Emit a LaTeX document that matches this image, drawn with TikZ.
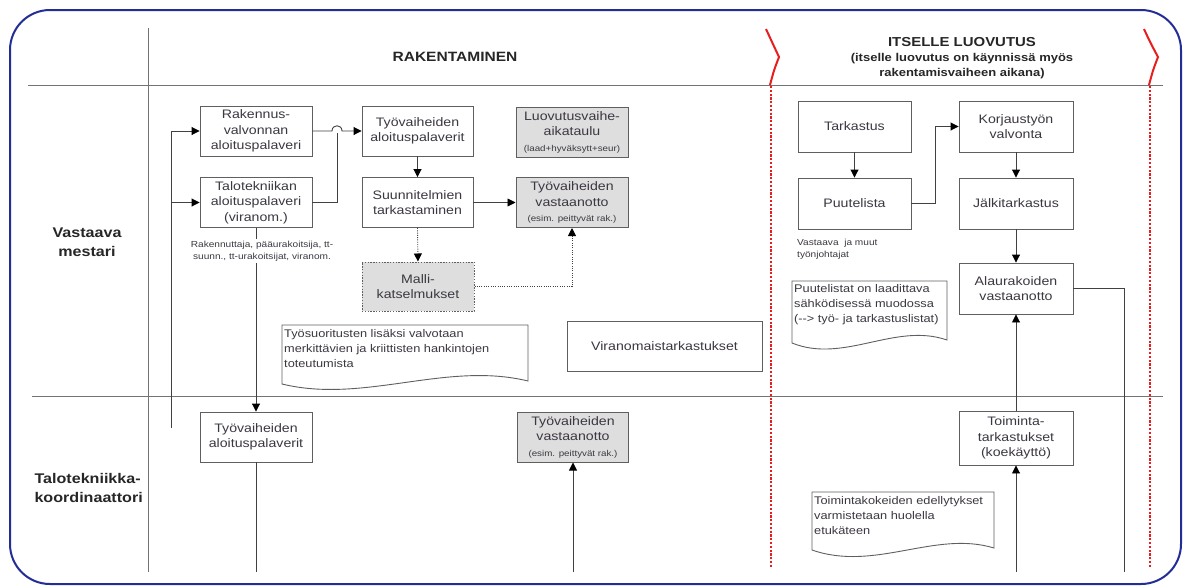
\documentclass[tikz,border=0pt]{standalone}
\usepackage{fontspec}
\setmainfont{Liberation Sans}[FakeStretch=1.15]
\usetikzlibrary{arrows.meta,calc}
\definecolor{frameblue}{RGB}{35,45,150}
\definecolor{boxc}{RGB}{95,95,95}
\definecolor{txt}{RGB}{60,55,65}
\definecolor{grayfill}{RGB}{222,222,222}
\definecolor{gridc}{RGB}{115,115,115}
\definecolor{redc}{RGB}{232,30,30}
\definecolor{linec}{RGB}{65,65,65}
\tikzset{
 box/.style={draw=boxc, line width=0.9pt, fill=white, text=txt, align=center, inner sep=1pt,
   minimum width=112pt, minimum height=50pt, font=\fontsize{12.3}{15.5}\selectfont},
 gbox/.style={box, fill=grayfill, line width=1pt},
 dbox/.style={gbox, dash pattern=on 1.4pt off 1.4pt},
 notetext/.style={text=txt, align=left, anchor=north west, inner sep=2pt, font=\fontsize{11.1}{15}\selectfont},
 noteshape/.style={draw=boxc, line width=0.9pt, fill=white},
 conn/.style={draw=linec, line width=0.9pt},
 arr/.style={conn, -{Triangle[length=8pt,width=8pt,color=black]}},
 dotarr/.style={arr, dash pattern=on 1pt off 1.3pt},
 dotline/.style={conn, dash pattern=on 1pt off 1.3pt},
 gridline/.style={draw=gridc, line width=0.9pt},
 redline/.style={draw=redc, line width=2.6pt, dash pattern=on 2.2pt off 1.6pt},
 redbr/.style={draw=redc, line width=2pt},
 smalltxt/.style={text=txt, font=\fontsize{8.8}{12}\selectfont, inner sep=2pt},
 rowlab/.style={font=\bfseries\fontsize{14}{19.5}\selectfont, text=black!85, align=center},
 head/.style={font=\bfseries\fontsize{13.5}{15}\selectfont, text=black!85, align=center}
}
\newcommand{\sm}[1]{{\fontsize{8.5}{10}\selectfont #1}}
\begin{document}
\begin{tikzpicture}[x=1pt,y=-1pt]
\useasboundingbox (0,0) rectangle (1187,587);
% frame
\draw[frameblue, line width=2pt, rounded corners=40pt] (10,10) rectangle (1181,584);
% grid
\draw[gridline] (28,85) -- (1163,85);
\draw[gridline] (32,396) -- (1163,396);
\draw[gridline] (148,28) -- (148,572);
% red markers
\draw[redbr] (766,29) .. controls (772,42) .. (779,57) .. controls (774,70) .. (770,85);
\draw[redbr] (1144,29) .. controls (1150,42) .. (1158,57) .. controls (1153,70) .. (1149,85);
\draw[redline] (771,86) -- (771,568);
\draw[redline] (1150,86) -- (1150,568);
% headers
\node[head] (hrak) at (455,57) {RAKENTAMINEN};
\node[head, font=\bfseries\fontsize{13}{15}\selectfont] (hits) at (962,42) {ITSELLE LUOVUTUS};
\node[head, font=\bfseries\fontsize{11.3}{15}\selectfont] (hsub) at (962,66) {(itselle luovutus on käynnissä myös\\rakentamisvaiheen aikana)};
% row labels
\node[rowlab] (rvm) at (87,242) {Vastaava\\mestari};
\node[rowlab, align=left, anchor=west] (rtk) at (31,488) {Talotekniikka-\\koordinaattori};
% boxes
\node[box] (rv) at (256,131) {Rakennus-\\valvonnan\\aloituspalaveri};
\node[box] (tt) at (256,202.5) {Talotekniikan\\aloituspalaveri\\(viranom.)};
\node[box, minimum width=111pt] (ta) at (417.5,131) {Työvaiheiden\\aloituspalaverit};
\node[box, minimum width=111pt] (st) at (417.5,202.5) {Suunnitelmien\\tarkastaminen};
\node[gbox] (lv) at (572,132) {Luovutusvaihe-\\aikataulu\\\sm{(laad+hyväksytt+seur)}};
\node[gbox] (tv) at (572,202.5) {Työvaiheiden\\vastaanotto\\\sm{(esim. peittyvät rak.)}};
\node[dbox, minimum height=49pt] (ma) at (418,286.5) {Malli-\\katselmukset};
\node[box, minimum width=195pt] (vt) at (664.5,346) {Viranomaistarkastukset};
\node[box, minimum width=113pt, minimum height=51pt] (tk) at (854.5,126.5) {Tarkastus};
\node[box, minimum width=113pt, minimum height=51pt] (pl) at (854.5,203.5) {Puutelista};
\node[box, minimum width=114pt, minimum height=51pt] (kv) at (1016,126.5) {Korjaustyön\\valvonta};
\node[box, minimum width=114pt, minimum height=51pt] (jt) at (1016,203.5) {Jälkitarkastus};
\node[box, minimum width=114pt, minimum height=51pt] (av) at (1016,288.5) {Alaurakoiden\\vastaanotto};
\node[box] (ta2) at (256,437) {Työvaiheiden\\aloituspalaverit};
\node[gbox, minimum width=111pt] (tv2) at (573,437) {Työvaiheiden\\vastaanotto\\\sm{(esim. peittyvät rak.)}};
\node[box, minimum width=114pt, minimum height=54pt] (tt2) at (1016,438) {Toiminta-\\tarkastukset\\(koekäyttö)};
% notes
\draw[noteshape] (282,325) -- (528,325) -- (528,381) .. controls (446,361) and (364,404) .. (282,384) -- cycle;
\node[notetext] (n1) at (282,327) {Työsuoritusten lisäksi valvotaan\\merkittävien ja kriittisten hankintojen\\toteutumista};
\draw[noteshape] (792,281) -- (947,281) -- (947,340) .. controls (895,322) and (844,364) .. (792,343) -- cycle;
\node[notetext] (n2) at (792,282) {Puutelistat on laadittava\\sähködisessä muodossa\\({-}{-}> työ- ja tarkastuslistat)};
\draw[noteshape] (812,492) -- (994,492) -- (994,548) .. controls (935,530) and (875,572) .. (812,550) -- cycle;
\node[notetext] (n3) at (812,494) {Toimintakokeiden edellytykset\\varmistetaan huolella\\etukäteen};
% small labels
\node[smalltxt, align=center] (ttl) at (262,251) {Rakennuttaja, pääurakoitsija, tt-\\suunn., tt-urakoitsijat, viranom.};
\node[smalltxt, align=left, anchor=north west] (vjl) at (795,237) {Vastaava\ \ ja muut\\työnjohtajat};
% coordinates
\coordinate (btop) at (171,131);
\coordinate (bmid) at (171,202.5);
\coordinate (bbot) at (171,428);
\coordinate (hopL) at (332,131);
\coordinate (hopR) at (342,131);
\coordinate (junc) at (337,133);
\coordinate (ta2bot) at (256,572);
\coordinate (tv2bot) at (573,572);
\coordinate (pk) at (935,203.5);
\coordinate (avr) at (1124,572);
\coordinate (tt2bot) at (1016,572);
% connectors
\draw[arr] (bbot) -- (btop) -- (rv.west);
\draw[arr] (bmid) -- (tt.west);
\draw[arr] (rv.east) -- (hopL) .. controls (332,124) and (342,124) .. (hopR) -- (ta.west);
\draw[conn] (tt.east) -| (junc);
\draw[arr] (ta.south) -- (st.north);
\draw[arr] (st.east) -- (tv.west);
\draw[dotarr] (st.south) -- (ma.north);
\draw[dotarr] (ma.east) -| (tv.south);
\draw[conn] (tt.south) -- (tt.south |- ttl.north);
\draw[arr] (tt.south |- ttl.south) -- (ta2.north);
\draw[conn] (ta2.south) -- (ta2bot);
\draw[arr] (tv2bot) -- (tv2.south);
\draw[arr] (tk.south) -- (pl.north);
\draw[arr] (pl.east) -- (pk) |- (kv.west);
\draw[arr] (kv.south) -- (jt.north);
\draw[arr] (jt.south) -- (av.north);
\draw[conn] (av.east) -| (avr);
\draw[arr] (tt2bot) -- (tt2.south);
\draw[arr] (tt2.north) -- (av.south);
\end{tikzpicture}
\end{document}
